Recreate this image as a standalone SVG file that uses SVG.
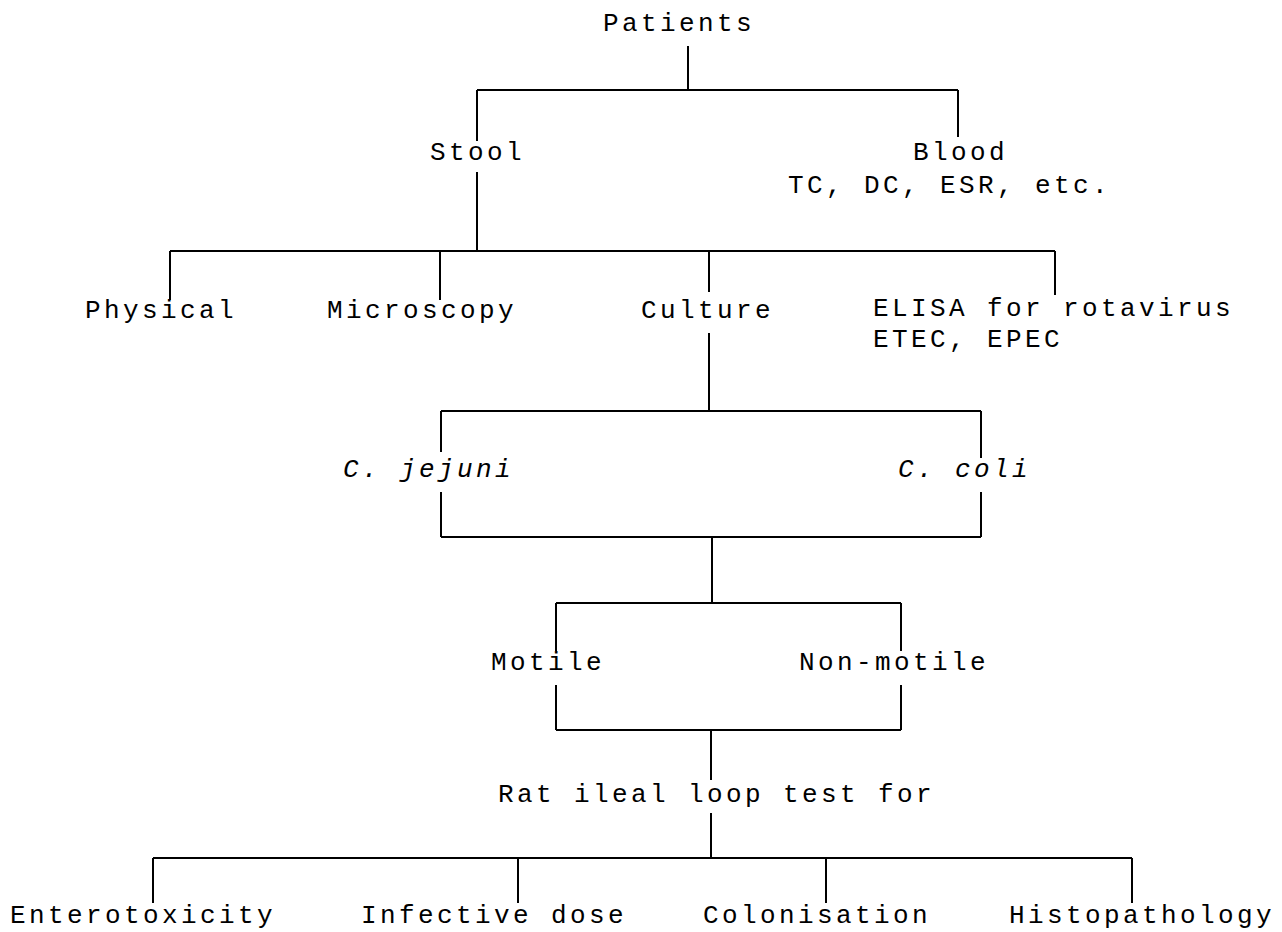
<svg xmlns="http://www.w3.org/2000/svg" width="1282" height="932" viewBox="0 0 1282 932">
<style>
text{font-family:"Liberation Mono","DejaVu Sans Mono",monospace;font-size:26px;letter-spacing:3.4px;fill:#000}
.it{font-style:italic}
#connectors path{stroke:#000;stroke-width:2;fill:none}
</style>
<rect width="1282" height="932" fill="#fff"/>
<g id="connectors">
<path d="M688 46V90M477 90H958M477 90V141M958 90V137"/>
<path d="M477 172V251M170 251H1055M170 251V300M440 251V300M709 251V292M1055 251V295"/>
<path d="M709 333V411M441 411H981M441 411V452M981 411V458M441 492V537M981 492V537M441 537H981"/>
<path d="M712 537V603M556 603H901M556 603V651M901 603V651M556 685V730M901 685V730M556 730H901M711 730V780"/>
<path d="M711 813V858M153 858H1132M153 858V903M518 858V903M826 858V903M1132 858V903"/>
</g>
<g id="patients"><text x="603" y="31">Patients</text></g>
<g id="stool"><text x="430" y="160">Stool</text></g>
<g id="blood"><text x="913" y="160">Blood</text><text x="788" y="193">TC, DC, ESR, etc.</text></g>
<g id="physical"><text x="85" y="318">Physical</text></g>
<g id="microscopy"><text x="327" y="318">Microscopy</text></g>
<g id="culture"><text x="641" y="318">Culture</text></g>
<g id="elisa"><text x="873" y="316">ELISA for rotavirus</text><text x="873" y="347">ETEC, EPEC</text></g>
<g id="cjejuni"><text class="it" x="343" y="477">C. jejuni</text></g>
<g id="ccoli"><text class="it" x="898" y="477">C. coli</text></g>
<g id="motile"><text x="491" y="670">Motile</text></g>
<g id="nonmotile"><text x="799" y="670">Non-motile</text></g>
<g id="ratileal"><text x="498" y="802">Rat ileal loop test for</text></g>
<g id="enterotoxicity"><text x="10" y="923">Enterotoxicity</text></g>
<g id="infective"><text x="361" y="923">Infective dose</text></g>
<g id="colonisation"><text x="703" y="923">Colonisation</text></g>
<g id="histopathology"><text x="1009" y="923">Histopathology</text></g>
</svg>
